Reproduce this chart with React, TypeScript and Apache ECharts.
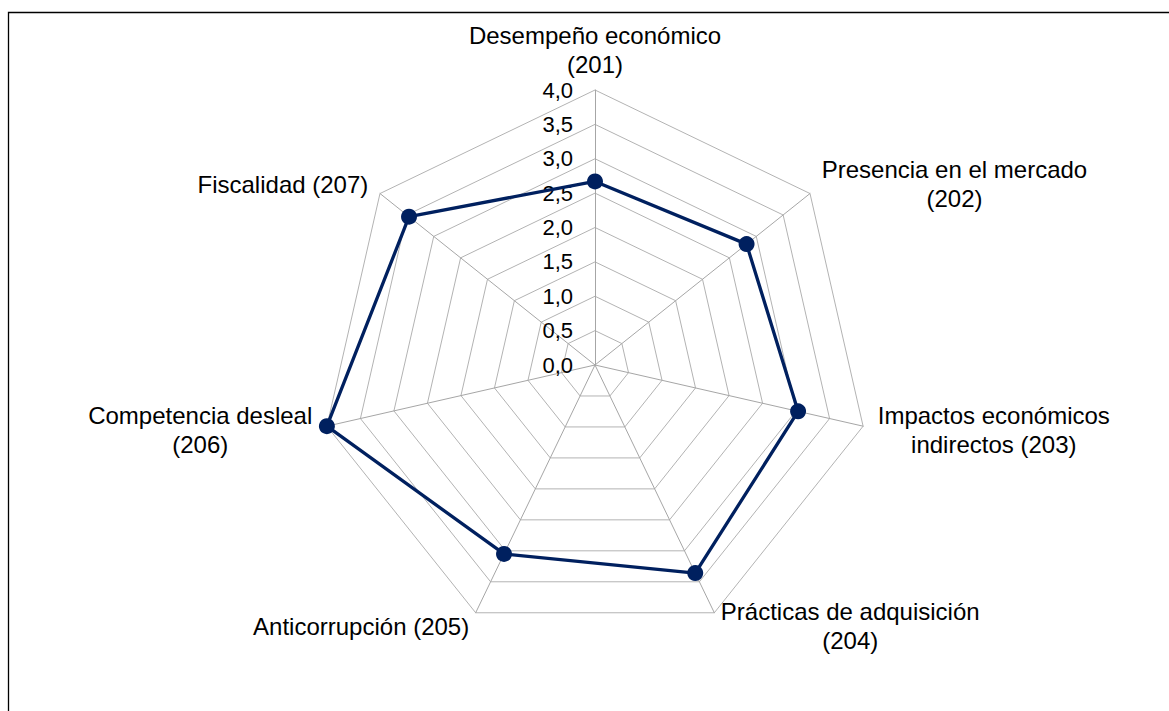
import React, { useEffect, useRef } from 'react';
import * as echarts from 'echarts';

const indicatorNames = [
  'Desempeño económico\n(201)',
  'Presencia en el mercado\n(202)',
  'Impactos económicos\nindirectos (203)',
  'Prácticas de adquisición\n(204)',
  'Anticorrupción (205)',
  'Competencia desleal\n(206)',
  'Fiscalidad (207)',
];
const seriesValues = [2.67, 2.82, 3.03, 3.36, 3.05, 4.0, 3.46];
const axisMin = 0;
const axisMax = 4;
const splitCount = 8;

const FONT = '"Liberation Sans", Arial, sans-serif';

// ECharts lays indicators out counter-clockwise; the reference runs clockwise,
// so keep the first one on top and reverse the rest.
const order = [0, ...indicatorNames.map((_, i) => i).slice(1).reverse()];

export default function App() {
  const ref = useRef<HTMLDivElement>(null);
  useEffect(() => {
    if (!ref.current) return;
    const chart = echarts.init(ref.current, undefined, { renderer: 'svg' });
    chart.setOption({
      animation: false,
      backgroundColor: '#ffffff',
      graphic: [
        {
          type: 'rect',
          shape: { x: 8.5, y: 12.5, width: 2000, height: 2000 },
          style: { fill: 'none', stroke: '#000000', lineWidth: 1.3 },
          silent: true,
        },
      ],
      radar: {
        center: [595, 365],
        radius: 275,
        shape: 'polygon',
        splitNumber: splitCount,
        startAngle: 90,
        nameGap: 15,
        indicator: order.map((idx, i) => ({
          name: indicatorNames[idx],
          min: axisMin,
          max: axisMax,
          ...(i === 0
            ? {
                nameGap: 11,
                axisLabel: {
                  show: true,
                  color: '#000000',
                  fontSize: 22,
                  fontFamily: FONT,
                  margin: 22,
                  formatter: (v: number) => v.toFixed(1).replace('.', ','),
                },
              }
            : {}),
        })),
        axisName: {
          color: '#000000',
          fontSize: 24,
          fontFamily: FONT,
          formatter: (name: string) =>
            name
              .split('\n')
              .map((l) => `{c|${l}}`)
              .join('\n'),
          rich: {
            c: {
              align: 'center',
              fontSize: 24,
              fontFamily: FONT,
              color: '#000000',
              lineHeight: 29,
            },
          },
        },
        axisLine: { lineStyle: { color: '#a6a6a6', width: 1 } },
        splitLine: { lineStyle: { color: '#b3b3b3', width: 1 } },
        splitArea: { show: false },
        axisTick: { show: false },
      },
      series: [
        {
          type: 'radar',
          symbol: 'circle',
          symbolSize: 16,
          lineStyle: { color: '#00205f', width: 3.3 },
          itemStyle: { color: '#00205f' },
          data: [{ value: order.map((idx) => seriesValues[idx]), name: 'Valor' }],
        },
      ],
    });
    return () => chart.dispose();
  }, []);
  return (
    <div
      ref={ref}
      style={{ position: 'fixed', left: 0, top: 0, width: 1169, height: 711 }}
    />
  );
}
